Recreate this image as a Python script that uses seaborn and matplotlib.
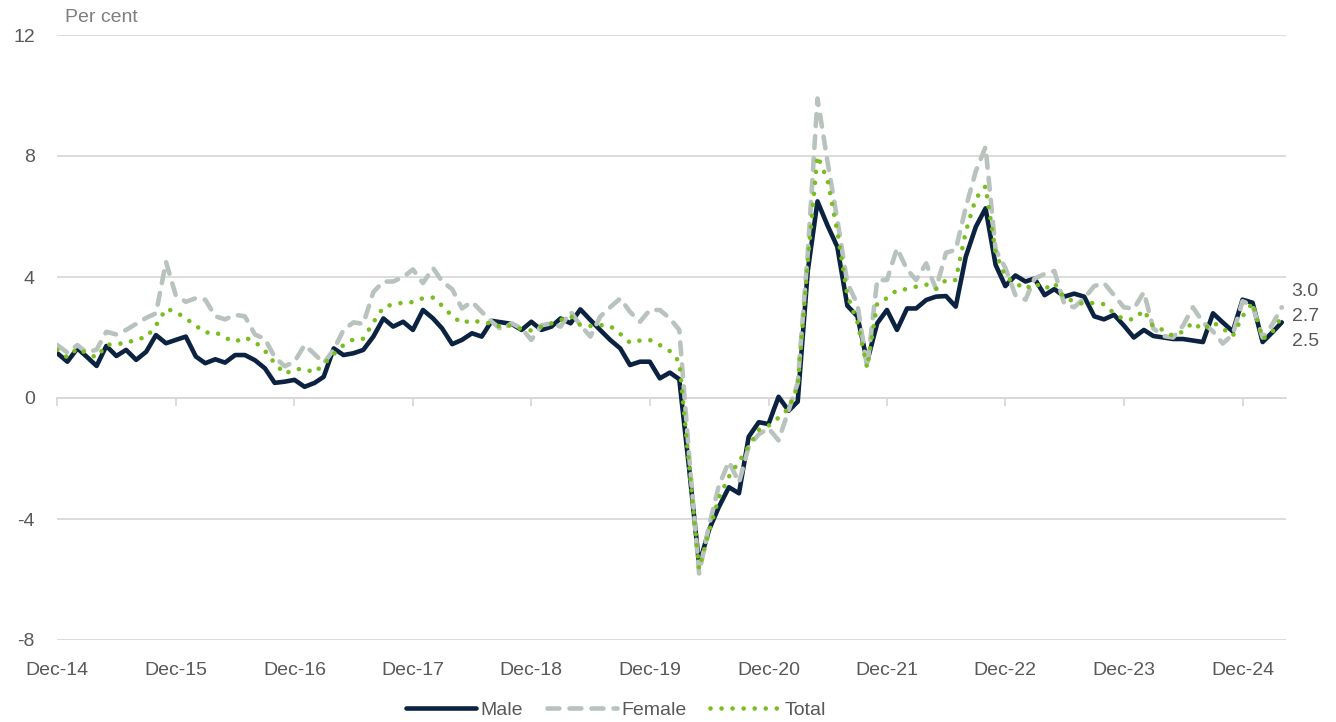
import pandas as pd
import matplotlib
matplotlib.use("Agg")
import matplotlib.pyplot as plt
import seaborn as sns

# monthly, Dec-14 to Apr-25, year-ended growth (per cent)
months = pd.date_range("2014-12-01", "2025-04-01", freq="MS")

male = [
    1.48, 1.2, 1.64, 1.37, 1.06, 1.72, 1.39, 1.59, 1.26, 1.53, 2.08, 1.81,
    1.92, 2.03, 1.37, 1.15, 1.28, 1.17, 1.42, 1.42, 1.25, 0.98, 0.5, 0.54,
    0.6, 0.37, 0.5, 0.7, 1.64, 1.42, 1.48, 1.59, 2.03, 2.63, 2.36, 2.52,
    2.25, 2.91, 2.63, 2.3, 1.78, 1.92, 2.14, 2.03, 2.55, 2.5, 2.45, 2.25,
    2.52, 2.25, 2.36, 2.63, 2.47, 2.93, 2.58, 2.25, 1.92, 1.64, 1.09, 1.2,
    1.2, 0.65, 0.84, 0.62, -2.4, -5.5, -4.35, -3.6, -2.95, -3.15, -1.28, -0.8,
    -0.86, 0.04, -0.42, -0.12, 4.2, 6.5, 5.7, 5.0, 3.05, 2.7, 1.2, 2.47,
    2.91, 2.25, 2.96, 2.96, 3.24, 3.35, 3.37, 3.02, 4.67, 5.66, 6.27, 4.4,
    3.7, 4.05, 3.85, 3.95, 3.4, 3.6, 3.35, 3.45, 3.35, 2.7, 2.6, 2.75,
    2.4, 2.0, 2.25, 2.05, 2.0, 1.95, 1.95, 1.9, 1.85, 2.8, 2.5, 2.2,
    3.25, 3.15, 1.85, 2.15, 2.5,
]
female = [
    1.75, 1.5, 1.75, 1.5, 1.6, 2.19, 2.1, 2.25, 2.45, 2.65, 2.8, 4.5,
    3.4, 3.18, 3.3, 3.25, 2.7, 2.6, 2.75, 2.7, 2.1, 1.95, 1.35, 1.05,
    1.2, 1.75, 1.45, 1.15, 1.6, 2.25, 2.5, 2.45, 3.5, 3.85, 3.85, 4.0,
    4.25, 3.8, 4.3, 3.85, 3.6, 2.96, 3.18, 2.85, 2.52, 2.25, 2.47, 2.3,
    1.92, 2.4, 2.47, 2.36, 2.85, 2.41, 2.03, 2.69, 3.0, 3.29, 2.85, 2.52,
    2.91, 2.91, 2.63, 2.25, -2.0, -5.8, -4.2, -2.9, -2.1, -2.8, -1.6, -1.2,
    -1.0, -1.4, -0.4, 0.5, 4.8, 9.9, 7.8, 5.9, 3.8, 3.1, 1.0, 3.9,
    3.9, 4.95, 4.25, 3.9, 4.45, 3.6, 4.8, 4.9, 6.3, 7.5, 8.3, 4.9,
    4.3, 3.4, 3.25, 3.95, 4.1, 4.2, 3.1, 3.0, 3.3, 3.7, 3.8, 3.4,
    3.0, 2.95, 3.5, 2.3, 2.05, 2.0, 2.4, 3.0, 2.5, 2.2, 1.8, 2.1,
    3.2, 3.05, 2.0, 2.4, 3.0,
]
total = [
    1.59, 1.34, 1.64, 1.48, 1.34, 1.75, 1.8, 1.8, 1.95, 2.0, 2.4, 2.95,
    2.85, 2.63, 2.39, 2.16, 2.18, 1.99, 1.86, 2.0, 1.86, 1.56, 1.15, 0.8,
    0.95, 0.96, 0.84, 1.12, 1.45, 1.75, 1.94, 1.96, 2.5, 3.0, 3.1, 3.15,
    3.17, 3.3, 3.32, 3.05, 2.71, 2.47, 2.58, 2.49, 2.47, 2.34, 2.41, 2.27,
    2.23, 2.36, 2.47, 2.58, 2.71, 2.41, 2.38, 2.41, 2.38, 2.12, 1.83, 1.9,
    1.92, 1.75, 1.55, 1.2, -2.3, -5.65, -4.4, -3.3, -2.6, -2.1, -1.6, -1.05,
    -0.92, -0.65, -0.35, 0.4, 4.5, 8.0, 7.2, 5.5, 3.4, 2.5, 1.0, 3.13,
    3.3, 3.57, 3.6, 3.68, 3.75, 3.6, 3.9, 3.9, 5.5, 6.6, 7.0, 4.8,
    4.0, 3.8, 3.6, 3.8, 3.6, 3.8, 3.3, 3.2, 3.1, 3.15, 3.1, 2.8,
    2.6, 2.6, 2.9, 2.35, 2.25, 2.05, 2.2, 2.5, 2.25, 2.5, 2.3, 2.05,
    2.7, 3.15, 1.95, 2.15, 2.7,
]

series_names = ["Male", "Female", "Total"]
series_colors = ["#0b2341", "#b9c3bd", "#78be20"]
tick_dates = pd.date_range("2014-12-01", "2024-12-01", freq="12MS")
tick_labels = ["Dec-14", "Dec-15", "Dec-16", "Dec-17", "Dec-18", "Dec-19",
               "Dec-20", "Dec-21", "Dec-22", "Dec-23", "Dec-24"]
y_ticks = [-8, -4, 0, 4, 8, 12]

df = pd.DataFrame({"date": months, "Male": male, "Female": female, "Total": total})

sns.set_theme(style="white")
plt.rcParams["font.family"] = ["Liberation Sans", "DejaVu Sans"]
plt.rcParams["axes.unicode_minus"] = False
text_grey = "#595959"
grid_grey = "#d9d9d9"
fs = 14

fig = plt.figure(figsize=(13.36, 7.22), dpi=100)
ax = fig.add_axes([57 / 1336, 1 - 640 / 722, 1229 / 1336, 605 / 722])

styles = {
    "Male": dict(linestyle="-", solid_capstyle="round", solid_joinstyle="round"),
    "Female": dict(linestyle=(0, (2.6, 2.2)), dash_capstyle="round"),
    "Total": dict(linestyle=(0, (0.01, 2.4)), dash_capstyle="round"),
}
for name, color in zip(series_names, series_colors):
    sns.lineplot(data=df, x="date", y=name, ax=ax, color=color, lw=3.3,
                 label=name, legend=False, **styles[name])

ax.set_ylim(-8, 12)
ax.set_yticks(y_ticks)
ax.set_xlim(pd.Timestamp("2014-11-30"), pd.Timestamp("2025-04-14"))
ax.set_xticks(tick_dates)
ax.set_xticklabels(tick_labels)
ax.set_xlabel("")
ax.set_ylabel("")
ax.grid(axis="y", color=grid_grey, lw=1.3)
ax.set_axisbelow(True)
for s in ax.spines.values():
    s.set_visible(False)
ax.tick_params(axis="x", length=0, pad=16, labelsize=fs, labelcolor=text_grey)
ax.tick_params(axis="y", length=0, pad=16, labelsize=fs, labelcolor=text_grey)

# tick marks on the zero line
zero_frac = (0 - (-8)) / 20
sec = ax.secondary_xaxis(zero_frac)
sec.set_xticks(tick_dates)
sec.set_xticklabels([])
sec.tick_params(axis="x", direction="out", length=6, width=1.3, color=grid_grey)
for s in sec.spines.values():
    s.set_visible(False)
sec.spines["bottom"].set_visible(True)
sec.spines["bottom"].set_color(grid_grey)
sec.spines["bottom"].set_linewidth(1.3)

# end-of-series labels
offsets = {"Female": 11, "Total": 0, "Male": -14}
for name in series_names:
    v = df[name].iloc[-1]
    ax.annotate(f"{v:.1f}", xy=(df["date"].iloc[-1], v), xytext=(7, offsets[name]),
                textcoords="offset points", va="center", ha="left",
                fontsize=fs, color=text_grey, annotation_clip=False)

fig.text(65 / 1336, 1 - 18 / 722, "Per cent", ha="left", va="center",
         fontsize=fs, color="#7f7f7f")

handles, labels = ax.get_legend_handles_labels()
fig.legend(handles, labels, loc="center", bbox_to_anchor=(616 / 1336, 1 - 710 / 722),
           ncol=3, frameon=False, handlelength=3.6, handletextpad=0.25,
           columnspacing=1.2, fontsize=fs, labelcolor=text_grey)

fig.savefig("out.png", dpi=100)
